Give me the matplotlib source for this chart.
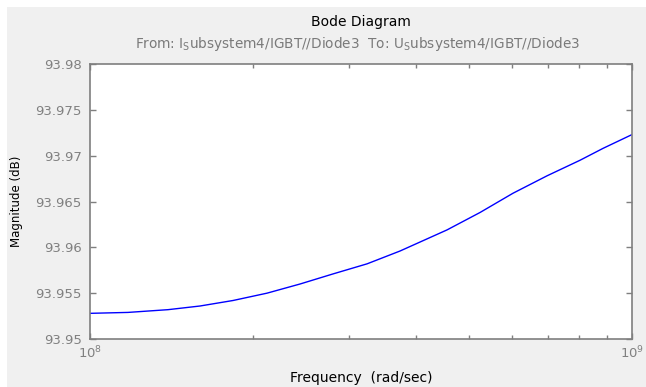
import numpy as np
import matplotlib
matplotlib.use("Agg")
import matplotlib.pyplot as plt
from matplotlib.patches import Rectangle
from matplotlib.ticker import LogLocator, FixedLocator, FixedFormatter, NullFormatter

plt.rcParams['font.family'] = ['DejaVu Sans']
plt.rcParams['mathtext.fontset'] = 'dejavusans'

# values (rad/sec, dB)
freq = [1.000e8, 1.175e8, 1.393e8, 1.596e8, 1.836e8, 2.121e8, 2.441e8, 2.808e8,
        3.245e8, 3.733e8, 4.557e8, 5.243e8, 6.031e8, 6.969e8, 8.019e8, 8.844e8,
        1.000e9]
mag = [93.9528, 93.9529, 93.9532, 93.9536, 93.9542, 93.9550, 93.9560, 93.9571,
       93.9582, 93.9596, 93.9619, 93.9638, 93.9659, 93.9678, 93.9695, 93.9708,
       93.9723]

y_ticks = [93.95, 93.955, 93.96, 93.965, 93.97, 93.975, 93.98]
y_labels = ['93.95', '93.955', '93.96', '93.965', '93.97', '93.975', '93.98']

W, H = 646, 387
fig = plt.figure(figsize=(W / 100, H / 100), dpi=100, facecolor='white')
# MATLAB-ish grey panel, white strip on left and top
fig.patches.append(Rectangle((7 / W, 0), 1, (H - 7) / H, transform=fig.transFigure,
                             facecolor='#f0f0f0', edgecolor='none', zorder=-10))

ax = fig.add_axes([90 / W, (H - 339) / H, (632 - 90) / W, (339 - 64) / H])
ax.set_facecolor('white')
ax.plot(freq, mag, color='#0000ff', lw=1.0)

ax.set_xscale('log')
ax.set_xlim(1e8, 1e9)
ax.set_ylim(93.95, 93.98)
ax.yaxis.set_major_locator(FixedLocator(y_ticks))
ax.yaxis.set_major_formatter(FixedFormatter(y_labels))
ax.xaxis.set_minor_locator(LogLocator(base=10, subs=np.arange(2, 10)))
ax.xaxis.set_minor_formatter(NullFormatter())

grey = '#7f7f7f'
for s in ax.spines.values():
    s.set_color(grey)
    s.set_linewidth(1.2)
ax.tick_params(which='both', direction='in', top=True, right=True,
               color=grey, labelcolor='#808080', labelsize=9.5)
ax.tick_params(which='major', length=4, width=1)
ax.tick_params(which='minor', length=3, width=1)
ax.tick_params(axis='y', pad=6)
ax.tick_params(axis='x', pad=4)

ax.set_xlabel('Frequency  (rad/sec)', fontsize=10, color='black', labelpad=7)
ax.set_ylabel('Magnitude (dB)', fontsize=8.5, color='black')
ax.yaxis.set_label_coords(-67 / (632 - 90), 0.5)

fig.text(361 / W, 1 - 22 / H, 'Bode Diagram', ha='center', va='center',
         fontsize=10, color='black')
fig.text(358 / W, 1 - 44 / H,
         r'From: I$_\mathrm{S}$ubsystem4/IGBT//Diode3  To: U$_\mathrm{S}$ubsystem4/IGBT//Diode3',
         ha='center', va='center', fontsize=9.8, color='#7a7a7a')

fig.savefig('out.png', dpi=100, facecolor=fig.get_facecolor())
